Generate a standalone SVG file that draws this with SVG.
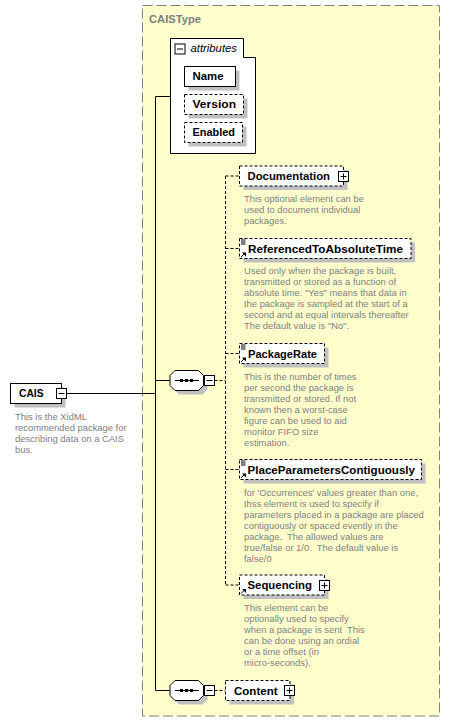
<svg xmlns="http://www.w3.org/2000/svg" width="450" height="722" viewBox="0 0 450 722">
<style>
.lbl{font-family:"Liberation Sans",Arial,sans-serif;font-weight:bold;font-size:11px;fill:#000}
.desc{font-family:"Liberation Sans",Arial,sans-serif;font-size:9.4px;fill:#808080;white-space:pre}
.box{fill:#fff;stroke:#000;stroke-width:1}
.opt{stroke-dasharray:3,2}
.sh{fill:#c0c0c0}
.ln{stroke:#000;stroke-width:1;fill:none}
.dl{stroke:#000;stroke-width:1;fill:none;stroke-dasharray:3,2}
.btn{fill:#fff;stroke:#000;stroke-width:1}
</style>
<defs>
<g id="minus"><rect class="btn" x="0" y="0" width="10" height="10"/><path class="ln" d="M2,5H8"/></g>
<g id="plus"><rect class="btn" x="0" y="0" width="10" height="10"/><path class="ln" d="M2,5H8M5,2V8"/></g>
<g id="lines"><path class="ln" d="M1.5,1.5H6M1.5,3.5H6M1.5,5.5H6"/></g>
<g id="ref"><path class="ln" d="M1.5,6.5L5,3"/><path d="M2.5,2H6.5V6Z" fill="#000"/></g>
<g id="seq"><polygon class="sh" points="9,4 32.5,4 37.5,9 37.5,19 32.5,24 9,24 4,19 4,9"/><polygon class="box" points="5,0 28.5,0 33.5,5 33.5,15 28.5,20 5,20 0,15 0,5"/><path class="ln" d="M5,10H29"/><rect x="10" y="8.5" width="3" height="3" fill="#000"/><rect x="15" y="8.5" width="3" height="3" fill="#000"/><rect x="20" y="8.5" width="3" height="3" fill="#000"/><path class="ln" d="M33.5,10H34.5"/><use href="#minus" x="34.5" y="5"/></g>
</defs>

<g id="CAISType">
<rect x="142.5" y="5.5" width="297" height="710.5" fill="#ffffcc" stroke="#808080" stroke-dasharray="10,4"/>
<text x="149" y="22.5" class="lbl" fill="#808080" style="fill:#808080" textLength="52" lengthAdjust="spacingAndGlyphs">CAISType</text>
</g>

<g id="connectors">
<path class="ln" d="M66.5,393.5H155.5M155.5,96.5V690.5M155.5,96.5H170.5M155.5,380.5H170M155.5,690.5H170"/>
<path class="dl" d="M214.5,380.5H225.5M225.5,176V585M225.5,176H239.5M225.5,248.5H239.5M225.5,353.5H239.5M225.5,469.5H239.5M225.5,585H239.5M214.5,690.5H225.5"/>
</g>

<g id="attributes">
<path d="M170.5,38.5H243.5V57.5H255.5V153.5H170.5Z" fill="#fff" stroke="#000"/>
<use href="#minus" x="175" y="44"/>
<text x="190.5" y="52" font-family="Liberation Sans,Arial,sans-serif" font-style="italic" font-size="10.5" textLength="46.5" lengthAdjust="spacingAndGlyphs">attributes</text>
</g>
<g id="attr-Name">
<rect class="sh" x="188.5" y="70.5" width="51" height="20"/>
<rect class="box" x="184.5" y="66.5" width="51" height="20"/>
<text x="192.5" y="80" class="lbl" textLength="31" lengthAdjust="spacingAndGlyphs">Name</text>
</g>
<g id="attr-Version">
<rect class="sh" x="188.5" y="98.5" width="59" height="20"/>
<rect class="box opt" x="184.5" y="94.5" width="59" height="20"/>
<text x="192.5" y="108" class="lbl" textLength="43.5" lengthAdjust="spacingAndGlyphs">Version</text>
</g>
<g id="attr-Enabled">
<rect class="sh" x="188.5" y="126.5" width="58" height="20"/>
<rect class="box opt" x="184.5" y="122.5" width="58" height="20"/>
<text x="192.5" y="136" class="lbl" textLength="42.5" lengthAdjust="spacingAndGlyphs">Enabled</text>
</g>

<g id="CAIS">
<rect class="sh" x="14.5" y="387.5" width="51" height="20"/>
<rect class="box" x="10.5" y="383.5" width="51" height="20"/>
<text x="19" y="397" class="lbl" textLength="24.5" lengthAdjust="spacingAndGlyphs">CAIS</text>
<use href="#minus" x="56.5" y="388.5"/>
<text class="desc"><tspan x="15" y="419.5">This is the XidML</tspan><tspan x="15" y="430.5">recommended package for</tspan><tspan x="15" y="441.5">describing data on a CAIS</tspan><tspan x="15" y="452.5">bus.</tspan></text>
</g>

<g id="sequence1"><use href="#seq" x="170" y="370.5"/></g>
<g id="sequence2"><use href="#seq" x="170" y="680.5"/></g>

<g id="Documentation">
<rect class="sh" x="243.5" y="170" width="104" height="20"/>
<rect class="box opt" x="239.5" y="166" width="104" height="20"/>
<text x="247.5" y="180" class="lbl" textLength="82.5" lengthAdjust="spacingAndGlyphs">Documentation</text>
<use href="#plus" x="338.5" y="171.5"/>
<text class="desc"><tspan x="244" y="202">This optional element can be</tspan><tspan x="244" y="213">used to document individual</tspan><tspan x="244" y="224">packages.</tspan></text>
</g>

<g id="ReferencedToAbsoluteTime">
<rect class="sh" x="243.5" y="242.5" width="171.5" height="20"/>
<rect class="box opt" x="239.5" y="238.5" width="171.5" height="20"/>
<use href="#lines" x="239.5" y="238.5"/>
<use href="#ref" x="239.5" y="250.5"/>
<text x="248" y="252.5" class="lbl" textLength="155" lengthAdjust="spacingAndGlyphs">ReferencedToAbsoluteTime</text>
<text class="desc"><tspan x="244" y="274">Used only when the package is built,</tspan><tspan x="244" y="285">transmitted or stored as a function of</tspan><tspan x="244" y="296">absolute time. "Yes" means that data in</tspan><tspan x="244" y="307">the package is sampled at the start of a</tspan><tspan x="244" y="318">second and at equal intervals thereafter</tspan><tspan x="244" y="329">The default value is "No".</tspan></text>
</g>

<g id="PackageRate">
<rect class="sh" x="243.5" y="347.5" width="85" height="20"/>
<rect class="box opt" x="239.5" y="343.5" width="85" height="20"/>
<use href="#lines" x="239.5" y="343.5"/>
<use href="#ref" x="239.5" y="355.5"/>
<text x="248" y="357.5" class="lbl" textLength="69" lengthAdjust="spacingAndGlyphs">PackageRate</text>
<text class="desc"><tspan x="244" y="379.5">This is the number of times</tspan><tspan x="244" y="390.5">per second the package is</tspan><tspan x="244" y="401.5">transmitted or stored. If not</tspan><tspan x="244" y="412.5">known then a worst-case</tspan><tspan x="244" y="423.5">figure can be used to aid</tspan><tspan x="244" y="434.5">monitor FIFO size</tspan><tspan x="244" y="445.5">estimation.</tspan></text>
</g>

<g id="PlaceParametersContiguously">
<rect class="sh" x="243.5" y="463.5" width="182" height="20"/>
<rect class="box opt" x="239.5" y="459.5" width="182" height="20"/>
<use href="#lines" x="239.5" y="459.5"/>
<use href="#ref" x="239.5" y="471.5"/>
<text x="247.5" y="473.5" class="lbl" textLength="167.5" lengthAdjust="spacingAndGlyphs">PlaceParametersContiguously</text>
<text class="desc"><tspan x="244" y="496">for 'Occurrences' values greater than one,</tspan><tspan x="244" y="507">thss element is used to specify if</tspan><tspan x="244" y="518">parameters placed in a package are placed</tspan><tspan x="244" y="529">contiguously or spaced evently in the</tspan><tspan x="244" y="540">package.  The allowed values are</tspan><tspan x="244" y="551">true/false or 1/0.  The default value is</tspan><tspan x="244" y="562">false/0</tspan></text>
</g>

<g id="Sequencing">
<rect class="sh" x="243.5" y="579" width="85" height="20"/>
<rect class="box opt" x="239.5" y="575" width="85" height="20"/>
<use href="#ref" x="239.5" y="587"/>
<text x="247.5" y="589" class="lbl" textLength="64.5" lengthAdjust="spacingAndGlyphs">Sequencing</text>
<use href="#plus" x="319.5" y="580.5"/>
<text class="desc"><tspan x="244" y="611">This element can be</tspan><tspan x="244" y="622">optionally used to specify</tspan><tspan x="244" y="633">when a package is sent  This</tspan><tspan x="244" y="644">can be done using an ordial</tspan><tspan x="244" y="655">or a time offset (in</tspan><tspan x="244" y="666">micro-seconds).</tspan></text>
</g>

<g id="Content">
<rect class="sh" x="229.5" y="684.5" width="64.5" height="20"/>
<rect class="box opt" x="225.5" y="680.5" width="64.5" height="20"/>
<text x="234" y="694.5" class="lbl" textLength="43.5" lengthAdjust="spacingAndGlyphs">Content</text>
<use href="#plus" x="284.5" y="685.5"/>
</g>
</svg>
